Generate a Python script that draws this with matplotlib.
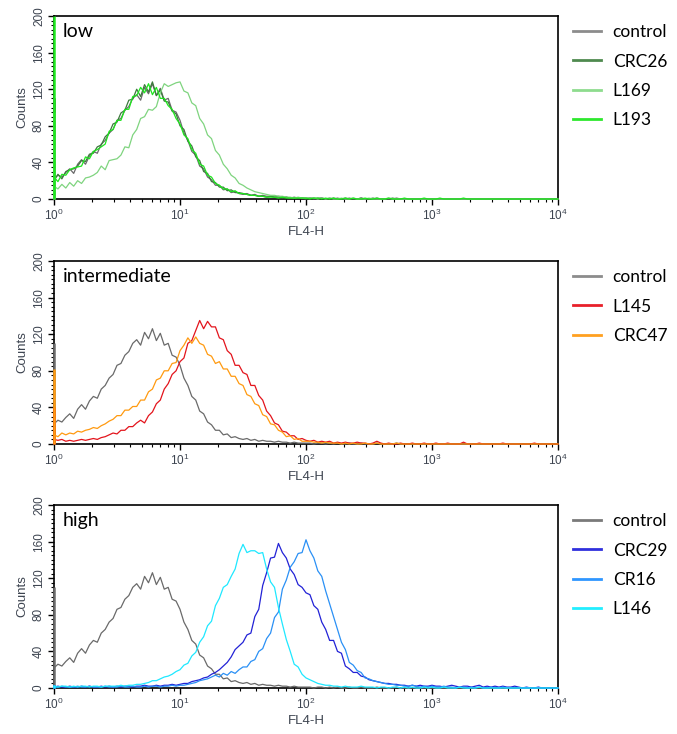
import numpy as np
import matplotlib
matplotlib.use('Agg')
import matplotlib.pyplot as plt
from matplotlib.ticker import LogLocator, LogFormatterMathtext, MultipleLocator

plt.rcParams['font.family'] = ['Liberation Sans', 'DejaVu Sans']
plt.rcParams['mathtext.default'] = 'regular'

# histogram channels, 32 per decade from 10^0 to 10^4
channels = np.logspace(0, 4, 129)

# counts (one value per channel)
control = [22, 26, 24, 29, 33, 28, 38, 43, 38, 47, 52, 50, 60, 64, 72, 76,
           86, 88, 97, 101, 110, 114, 108, 122, 115, 126, 113, 121, 108, 110, 97, 95,
           86, 72, 64, 52, 48, 36, 33, 24, 21, 15, 15, 10, 11, 7, 8, 6,
           5, 6, 4, 5, 3, 4, 3, 3, 2, 3, 2, 2, 1, 2, 1, 1,
           1, 1, 0, 1, 1, 0, 1, 0, 1, 0, 0, 1, 0, 0, 1, 0,
           0, 0, 1, 0, 0, 0, 0, 1, 0, 0, 0, 0, 0, 0, 0, 0,
           0, 0, 0, 0, 0, 0, 0, 0, 0, 0, 0, 0, 0, 0, 0, 0,
           0, 0, 0, 0, 0, 0, 0, 0, 0, 0, 0, 0, 0, 0, 0, 0, 0]
crc26 = [20, 27, 22, 30, 32, 33, 36, 42, 41, 49, 50, 57, 59, 68, 72, 82,
         84, 94, 97, 108, 109, 120, 112, 125, 117, 128, 113, 119, 107, 106, 96, 93,
         80, 76, 63, 58, 46, 42, 30, 28, 19, 18, 13, 13, 9, 10, 7, 7,
         6, 5, 4, 4, 3, 3, 2, 3, 2, 2, 1, 2, 1, 1, 1, 1,
         0, 1, 1, 0, 1, 0, 0, 1, 0, 0, 1, 0, 0, 0, 1, 0,
         0, 1, 0, 0, 0, 0, 1, 0, 0, 0, 0, 0, 0, 0, 0, 0,
         0, 0, 0, 0, 0, 0, 0, 0, 0, 0, 0, 0, 0, 0, 0, 0,
         0, 0, 0, 0, 0, 0, 0, 0, 0, 0, 0, 0, 0, 0, 0, 0, 0]
l169 = [14, 11, 16, 12, 18, 14, 20, 17, 23, 24, 26, 29, 36, 32, 42, 43,
        44, 48, 57, 56, 70, 76, 88, 90, 98, 97, 101, 116, 126, 123, 125, 127,
        128, 118, 116, 105, 102, 88, 82, 70, 66, 53, 48, 38, 33, 26, 23, 17,
        15, 12, 10, 8, 7, 6, 5, 4, 4, 3, 3, 2, 2, 1, 2, 1,
        1, 1, 1, 0, 1, 0, 1, 0, 0, 1, 0, 0, 1, 0, 0, 0,
        1, 0, 0, 0, 0, 1, 0, 0, 0, 0, 0, 0, 0, 0, 0, 0,
        0, 0, 0, 0, 0, 0, 0, 0, 0, 0, 0, 0, 0, 0, 0, 0,
        0, 0, 0, 0, 0, 0, 0, 0, 0, 0, 0, 0, 0, 0, 0, 0, 0]
l193 = [24, 19, 27, 26, 32, 34, 35, 36, 46, 44, 52, 54, 57, 60, 74, 76,
        86, 86, 98, 98, 112, 113, 122, 116, 126, 114, 122, 110, 110, 102, 98, 88,
        82, 70, 66, 54, 50, 38, 36, 26, 24, 17, 15, 11, 11, 8, 9, 6,
        6, 5, 4, 4, 3, 3, 2, 2, 2, 1, 2, 1, 1, 1, 1, 1,
        1, 0, 1, 1, 0, 1, 0, 1, 0, 0, 1, 0, 1, 0, 0, 1,
        0, 0, 1, 0, 0, 1, 0, 0, 0, 1, 0, 0, 0, 0, 1, 0,
        0, 0, 1, 0, 0, 0, 0, 0, 1, 0, 0, 0, 0, 0, 0, 0,
        0, 0, 0, 0, 0, 0, 0, 0, 0, 0, 0, 0, 0, 0, 0, 0, 0]
l145 = [5, 4, 5, 3, 4, 3, 4, 5, 4, 5, 6, 5, 7, 8, 10, 12,
        11, 15, 15, 19, 19, 23, 26, 23, 31, 35, 44, 48, 60, 66, 76, 80,
        90, 94, 110, 113, 124, 135, 126, 134, 128, 128, 116, 114, 102, 98, 86, 86,
        78, 76, 64, 64, 53, 48, 36, 31, 23, 21, 14, 13, 9, 9, 5, 6,
        4, 3, 4, 2, 3, 2, 3, 1, 2, 1, 2, 1, 1, 2, 1, 1,
        0, 1, 3, 1, 0, 1, 0, 0, 1, 0, 0, 1, 0, 0, 1, 0,
        0, 1, 0, 0, 1, 0, 0, 0, 2, 0, 0, 0, 1, 0, 0, 0,
        0, 0, 1, 0, 0, 0, 0, 0, 0, 0, 1, 0, 0, 0, 0, 0, 0]
crc47 = [10, 8, 12, 10, 12, 11, 14, 13, 15, 16, 18, 17, 20, 22, 25, 27,
         31, 31, 37, 37, 41, 41, 48, 48, 57, 60, 70, 72, 80, 80, 88, 89,
         102, 108, 116, 110, 117, 110, 108, 98, 96, 88, 90, 82, 82, 74, 74, 66,
         64, 54, 52, 44, 42, 32, 30, 22, 21, 15, 13, 8, 9, 5, 6, 3,
         3, 3, 2, 2, 1, 2, 1, 1, 1, 0, 1, 0, 1, 0, 0, 1,
         0, 0, 1, 0, 0, 0, 0, 1, 0, 0, 0, 0, 0, 0, 0, 0,
         0, 0, 0, 0, 0, 0, 0, 0, 0, 0, 0, 0, 0, 0, 0, 0,
         0, 0, 0, 0, 0, 0, 0, 0, 0, 0, 0, 0, 0, 0, 0, 0, 0]
crc29 = [1, 2, 1, 1, 2, 1, 1, 2, 1, 2, 1, 1, 2, 1, 2, 1,
         2, 1, 2, 2, 1, 2, 2, 3, 2, 2, 3, 2, 3, 3, 4, 3,
         4, 5, 5, 7, 8, 9, 11, 12, 15, 17, 20, 24, 28, 34, 42, 46,
         50, 58, 60, 78, 86, 112, 126, 142, 143, 158, 148, 142, 130, 124, 113, 110,
         104, 102, 90, 86, 72, 64, 52, 52, 40, 38, 24, 21, 17, 17, 13, 12,
         9, 8, 7, 6, 5, 5, 4, 4, 3, 3, 2, 3, 2, 3, 2, 2,
         3, 2, 2, 1, 2, 3, 2, 1, 2, 2, 1, 2, 3, 1, 2, 1,
         2, 1, 2, 1, 1, 2, 1, 0, 1, 0, 0, 1, 0, 0, 0, 0, 0]
cr16 = [1, 1, 2, 1, 1, 1, 2, 1, 1, 2, 1, 1, 1, 2, 1, 1,
        1, 2, 1, 1, 2, 1, 1, 2, 1, 2, 2, 1, 2, 2, 3, 2,
        3, 3, 4, 5, 6, 8, 9, 10, 12, 14, 12, 16, 14, 18, 16, 20,
        23, 23, 29, 31, 40, 43, 54, 60, 77, 83, 108, 118, 132, 138, 147, 148,
        162, 150, 142, 128, 122, 106, 92, 78, 64, 50, 42, 28, 25, 19, 17, 11,
        10, 8, 7, 6, 5, 4, 4, 3, 3, 2, 2, 3, 2, 1, 2, 1,
        2, 1, 1, 2, 1, 1, 0, 1, 1, 0, 1, 0, 1, 0, 0, 1,
        0, 0, 1, 0, 0, 0, 0, 0, 0, 0, 0, 0, 0, 0, 0, 0, 0]
l146 = [2, 1, 2, 2, 1, 2, 1, 2, 2, 1, 2, 2, 1, 2, 2, 2,
        2, 3, 2, 3, 3, 4, 4, 5, 6, 8, 8, 10, 12, 13, 15, 18,
        20, 25, 27, 35, 39, 50, 56, 68, 73, 90, 98, 110, 113, 122, 130, 147,
        157, 148, 150, 150, 147, 148, 130, 116, 110, 88, 70, 53, 40, 26, 23, 15,
        11, 9, 7, 5, 4, 3, 3, 2, 2, 1, 2, 1, 1, 1, 2, 1,
        1, 1, 0, 1, 1, 0, 1, 1, 0, 1, 0, 1, 0, 0, 1, 0,
        1, 0, 0, 1, 0, 0, 0, 1, 0, 0, 0, 0, 1, 0, 0, 0,
        0, 0, 0, 0, 0, 0, 0, 0, 0, 0, 0, 0, 0, 0, 0, 0, 0]

# events piled up in the first channel (drawn as a spike at 10^0)
edge_counts = {'control': 110, 'CRC26': 110, 'L169': 95, 'L193': 200,
               'L145': 40, 'CRC47': 82, 'CRC29': 3, 'CR16': 3, 'L146': 3}

panels = [
    ('low', [('control', control, '#6a6a6a', '#8c8c8c'),
             ('CRC26', crc26, '#3d7a3d', '#4f8a4f'),
             ('L169', l169, '#7fd47f', '#8edc8e'),
             ('L193', l193, '#1ee61e', '#2ee82e')]),
    ('intermediate', [('control', control, '#6a6a6a', '#8c8c8c'),
                      ('L145', l145, '#e3141c', '#e8202a'),
                      ('CRC47', crc47, '#ff9a10', '#ffa020')]),
    ('high', [('control', control, '#6a6a6a', '#7a7a7a'),
              ('CRC29', crc29, '#2222d6', '#3030dd'),
              ('CR16', cr16, '#2a90f5', '#2f96ff'),
              ('L146', l146, '#1ee8ff', '#22eeff')]),
]

W, H = 677, 734
fig = plt.figure(figsize=(W / 100, H / 100), dpi=100)
ax_top = [16, 261, 505]
ax_h = 183
ax_left, ax_right = 54, 558
label_col = '#3d4450'

for (title, curves), top in zip(panels, ax_top):
    ax = fig.add_axes([ax_left / W, 1 - (top + ax_h) / H, (ax_right - ax_left) / W, ax_h / H])
    for name, vals, col, legcol in curves:
        ax.plot(channels, vals, color=col, lw=0.9, zorder=3, clip_on=False)
        ax.vlines(1, 0, edge_counts[name], color=col, lw=1.8, zorder=3, clip_on=False)
    # legend handles use the lighter legend colours
    handles = [ax.plot([], [], color=legcol, lw=2)[0] for _, _, _, legcol in curves]
    ax.legend(handles, [c[0] for c in curves], loc='upper left', bbox_to_anchor=(1.0, 1.035),
              frameon=False, prop={'family': 'Lato', 'size': 12.5}, handlelength=1.6,
              handletextpad=0.7, labelspacing=0.76, borderaxespad=0.45)

    ax.set_xscale('log')
    ax.set_xlim(1, 1e4)
    ax.set_ylim(0, 200)
    ax.xaxis.set_major_locator(LogLocator(base=10))
    ax.xaxis.set_minor_locator(LogLocator(base=10, subs=np.arange(2, 10)))
    ax.xaxis.set_major_formatter(LogFormatterMathtext())
    ax.yaxis.set_major_locator(MultipleLocator(40))
    ax.yaxis.set_minor_locator(MultipleLocator(5))
    ax.tick_params(which='major', direction='out', length=4, width=1, labelsize=8.5,
                   labelcolor=label_col, pad=2.5)
    ax.tick_params(which='minor', direction='out', length=2.5, width=0.8)
    ax.tick_params(axis='x', which='minor', labelbottom=False)
    for lab in ax.get_yticklabels():
        lab.set_rotation(90)
        lab.set_va('center')
    for s in ax.spines.values():
        s.set_linewidth(1.2)
    ax.set_ylabel('Counts', fontsize=9.5, labelpad=3, color=label_col)
    ax.set_xlabel('FL4-H', fontsize=9.5, labelpad=2, color=label_col)
    ax.text(0.018, 0.915, title, transform=ax.transAxes, fontsize=14, family='Lato',
            va='center', ha='left')

fig.savefig('out.png', dpi=100)
